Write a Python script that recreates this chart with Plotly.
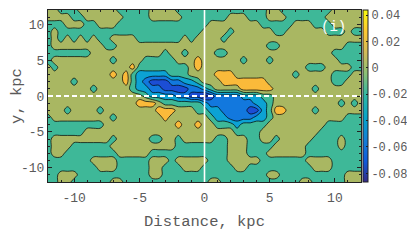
import numpy as np
import plotly.graph_objects as go

# grid (kpc)
x_kpc = np.linspace(-12, 12, 49)
y_kpc = np.linspace(-12, 12, 25)

class_value = {'p': -0.09, 'd': -0.07, 'b': -0.05, 'l': -0.03,
               't': -0.01, '.': 0.01, 'o': 0.03}

# run-length rows, top (y=12) to bottom (y=-12), 49 cells each (x=-12..12 step 0.5)
map_rows = [
    "2. 3t 6. 5t 4. 14t 2. 8t 5.",
    "4. 2t 6. 4t 5. 7t 3. 3t 3. 6t 6.",
    "3t 3. 2t 3. 14t 8. 5t 3. 3t 5.",
    "1t 1. 22t 4. 1t 6. 2t 6. 3t 1. 2t",
    "1t 1. 1t 1. 1t 1. 1t 1. 2t 4. 7t 1. 1t 4. 1t 21.",
    "1t 8. 2t 23. 2t 10. 3t",
    "7t 11. 1t 2. 1t 4. 2t 16. 5t",
    "1t 9. 1t 4. 5t 3. 1o 6. 1t 3. 1t 10. 4t",
    "1. 1t 11. 1o 8t 1. 1o 16. 3t 4. 2t",
    "10. 1o 1. 1o 1t 5l 3t 4. 3o 9. 1t 5. 3t 2.",
    "4. 1t 7. 1o 1t 1l 1b 3d 2b 2l 1t 3. 7o 10. 2t 3.",
    "7. 1t 5. 1t 2l 2b 4d 2b 1l 1t 4. 5o 6. 1t 7.",
    "15. 1t 4l 2b 2d 1p 1d 4b 3l 2t 14.",
    "14. 3o 1. 6t 1l 7b 2l 1t 10. 1t 1. 1t 1.",
    "3. 1t 4. 1t 8. 3o 3. 2t 2l 4b 2d 1l 1t 2o 4. 1t 7.",
    "1t 9. 1t 7. 1o 6. 1t 2l 4b 2l 1t 11. 3t",
    "9t 11. 1o 2. 1o 2. 3t 1l 4t 9. 6t",
    "6t 23. 4t 9. 7t",
    "1t 9. 1t 5. 2t 2. 1t 5. 2t 3. 2t 2. 1t 5. 4t 1. 3t",
    "1t 3. 6t 10. 8t 3. 4t 5. 5t 1. 3t",
    "1t 2. 8t 5. 12t 3. 3t 6. 9t",
    "7t 4. 5t 3. 1t 5. 3t 5. 7t 4. 5t",
    "8t 3. 5t 2. 3t 3. 5t 2. 10t 3. 5t",
    "2t 3. 11t 2. 16t 2. 10t 3.",
    "2t 2. 6t 2. 13t 2. 12t 2. 5t 3.",
]

x_ticks = [-10, -5, 0, 5, 10]
x_ticktext = ["-10", "-5", "0", "5", "10"]
y_ticks = [-10, -5, 0, 5, 10]
y_ticktext = ["-10", "-5", "0", "5", "10"]
cb_ticks = [-0.08, -0.06, -0.04, -0.02, 0, 0.02, 0.04]
cb_ticktext = ["-0.08", "-0.06", "-0.04", "-0.02", "0", "0.02", "0.04"]
cb_range = [-0.0866, 0.044]


def decode(rle, n=49):
    s = ''
    for tok in rle.split():
        s += tok[-1] * int(tok[:-1])
    if len(s) < n:
        s = s + s[-1] * (n - len(s))
    return s[:n]


z = [[class_value[c] for c in decode(r)] for r in map_rows][::-1]

# fill colours of the bands (<-0.08, ..., >0.02)
band_colors = ["rgb(52,45,150)", "rgb(28,78,212)", "rgb(18,120,222)",
               "rgb(12,162,212)", "rgb(62,184,152)", "rgb(169,183,98)",
               "rgb(250,186,58)"]
nb = len(band_colors)
stepped = []
for k, c in enumerate(band_colors):
    lo = 0 if k == 0 else (k - 0.5) / (nb - 1)
    hi = 1 if k == nb - 1 else (k + 0.5) / (nb - 1)
    stepped.append([lo, c])
    stepped.append([hi, c])

parula = [[0.0, "#352a87"], [0.125, "#0f5cdd"], [0.25, "#1481d6"],
          [0.375, "#06a4ca"], [0.5, "#2eb7a4"], [0.625, "#87bf77"],
          [0.75, "#d1bb59"], [0.875, "#fec832"], [1.0, "#f9fb0e"]]

font_mono = "Liberation Mono"
txt_col = "#5a5a5a"

fig = go.Figure()
fig.add_trace(go.Contour(
    x=x_kpc, y=y_kpc, z=z,
    contours=dict(start=-0.08, end=0.02, size=0.02, coloring="fill", showlines=True),
    line=dict(color="black", width=0.7),
    colorscale=stepped, showscale=False, hoverinfo="skip",
))
fig.add_trace(go.Scatter(
    x=[0], y=[0], mode="markers", hoverinfo="skip", showlegend=False,
    marker=dict(color=[0], opacity=0, size=1, colorscale=parula,
                cmin=cb_range[0], cmax=cb_range[1], showscale=True,
                colorbar=dict(thickness=5, len=1, lenmode="fraction",
                              y=0.5, yanchor="middle", x=1.006, xanchor="left",
                              xpad=0, ypad=0, outlinewidth=1, outlinecolor="#222",
                              tickvals=cb_ticks, ticktext=cb_ticktext,
                              ticks="inside", ticklen=2, tickcolor="#222",
                              ticklabeloverflow="allow",
                              tickfont=dict(family=font_mono, size=12, color=txt_col))),
))

fig.add_shape(type="line", xref="x", yref="y", x0=0, x1=0, y0=-12, y1=12,
              line=dict(color="white", width=1.6), layer="above")
fig.add_shape(type="line", xref="x", yref="y", x0=-12, x1=12, y0=0, y1=0,
              line=dict(color="white", width=2, dash="5px,3px"), layer="above")
fig.add_annotation(x=9.9, y=9.6, xref="x", yref="y", text="(i)", showarrow=False,
                   font=dict(family=font_mono, size=14, color="white"))

axis_common = dict(showgrid=False, zeroline=False, showline=True, linecolor="#222",
                   linewidth=1, mirror="ticks", ticks="inside", ticklen=4,
                   tickcolor="#222", range=[-12, 12], automargin=False,
                   tickfont=dict(family=font_mono, size=13, color=txt_col),
                   minor=dict(tickmode="linear", tick0=0, dtick=1, ticks="inside",
                              ticklen=2, tickcolor="#222"))

# page body has an 8px default margin: figure is sized so the plot lands where the reference has it
fig.update_layout(
    width=407, height=232,
    margin=dict(l=40, r=54, t=2, b=58, autoexpand=False),
    paper_bgcolor="white", plot_bgcolor="white", showlegend=False,
    xaxis=dict(**axis_common, tickvals=x_ticks, ticktext=x_ticktext,
               ticklabelstandoff=3,
               title=dict(text="Distance, kpc", standoff=10,
                          font=dict(family=font_mono, size=15.5, color=txt_col))),
    yaxis=dict(**axis_common, tickvals=y_ticks, ticktext=y_ticktext,
               title=dict(text="y, kpc", standoff=3,
                          font=dict(family=font_mono, size=15.5, color=txt_col))),
)

fig.write_html("out.html")
